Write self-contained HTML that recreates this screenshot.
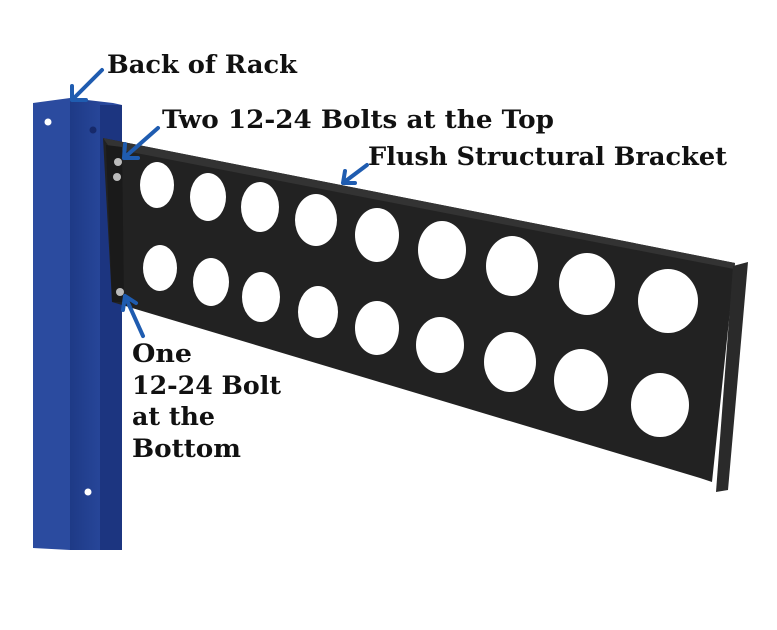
<!DOCTYPE html>
<html><head><meta charset="utf-8"><style>
body{margin:0;background:#fff;width:777px;height:630px;overflow:hidden}
svg{display:block}
text{font-family:"DejaVu Serif","Liberation Serif",serif;font-size:25px;font-weight:bold;fill:#111}
</style></head><body>
<svg width="777" height="630" viewBox="0 0 777 630">
<defs>
<linearGradient id="pf" x1="0" x2="1"><stop offset="0" stop-color="#1e3a86"/><stop offset="1" stop-color="#2d4ea6"/></linearGradient>
</defs>
<!-- post -->
<polygon points="33,103 70,98 70,550 33,548" fill="#2b4b9f"/>
<polygon points="70,98 113,103 122,105 122,550 70,550" fill="url(#pf)"/>
<rect x="100" y="105" width="22" height="445" fill="#1c3580"/>
<circle cx="48" cy="122" r="3.5" fill="#fff"/>
<circle cx="93" cy="130" r="3.5" fill="#16296a"/>
<circle cx="88" cy="492" r="3.5" fill="#fff"/>
<!-- bracket -->
<polygon points="103,138 735,263 712,482 700,478 112,302" fill="#222"/>
<polygon points="103,138 735,263 734,269 110,148" fill="#333"/>
<polygon points="106,145 122,147 124,302 112,302" fill="#1a1a1a"/>
<polygon points="733,266 748,262 728,490 716,492" fill="#2a2a2a"/>
<g fill="#fff">
<ellipse cx="157" cy="185" rx="17" ry="23"/>
<ellipse cx="208" cy="197" rx="18" ry="24"/>
<ellipse cx="260" cy="207" rx="19" ry="25"/>
<ellipse cx="316" cy="220" rx="21" ry="26"/>
<ellipse cx="377" cy="235" rx="22" ry="27"/>
<ellipse cx="442" cy="250" rx="24" ry="29"/>
<ellipse cx="512" cy="266" rx="26" ry="30"/>
<ellipse cx="587" cy="284" rx="28" ry="31"/>
<ellipse cx="668" cy="301" rx="30" ry="32"/>
<ellipse cx="160" cy="268" rx="17" ry="23"/>
<ellipse cx="211" cy="282" rx="18" ry="24"/>
<ellipse cx="261" cy="297" rx="19" ry="25"/>
<ellipse cx="318" cy="312" rx="20" ry="26"/>
<ellipse cx="377" cy="328" rx="22" ry="27"/>
<ellipse cx="440" cy="345" rx="24" ry="28"/>
<ellipse cx="510" cy="362" rx="26" ry="30"/>
<ellipse cx="581" cy="380" rx="27" ry="31"/>
<ellipse cx="660" cy="405" rx="29" ry="32"/>
</g>
<g fill="#bbb"><circle cx="118" cy="162" r="4"/><circle cx="117" cy="177" r="4"/><circle cx="120" cy="292" r="4"/></g>
<!-- arrows -->
<g stroke="#1f5cb0" stroke-width="4" fill="none" stroke-linecap="round">
<path d="M102,70 L72,100 M72,100 L72,86 M72,100 L86,100"/>
<path d="M158,128 L124,158 M124,158 L125,144 M124,158 L138,158"/>
<path d="M367,165 L343,183 M343,183 L345,171 M343,183 L355,183"/>
<path d="M143,336 L125,296 M125,296 L123,310 M125,296 L136,303"/>
</g>
<text x="107" y="73" textLength="190" lengthAdjust="spacingAndGlyphs">Back of Rack</text>
<text x="162" y="128" textLength="392" lengthAdjust="spacingAndGlyphs">Two 12-24 Bolts at the Top</text>
<text x="368" y="165" textLength="359" lengthAdjust="spacingAndGlyphs">Flush Structural Bracket</text>
<text x="132" y="362" textLength="60" lengthAdjust="spacingAndGlyphs">One</text>
<text x="132" y="394" textLength="149" lengthAdjust="spacingAndGlyphs">12-24 Bolt</text>
<text x="132" y="425" textLength="83" lengthAdjust="spacingAndGlyphs">at the</text>
<text x="132" y="457" textLength="109" lengthAdjust="spacingAndGlyphs">Bottom</text>
</svg>
</body></html>
